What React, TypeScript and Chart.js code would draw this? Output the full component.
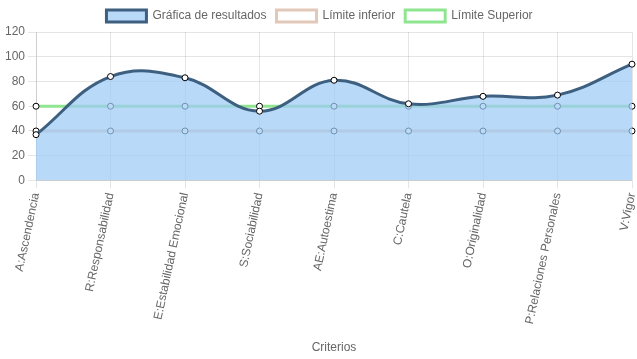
import React, { useEffect, useRef } from "react";
import { Chart, registerables } from "chart.js";
Chart.register(...registerables);

const categories = [
  "A:Ascendencia",
  "R:Responsabilidad",
  "E:Estabilidad Emocional",
  "S:Sociabilidad",
  "AE:Autoestima",
  "C:Cautela",
  "O:Originalidad",
  "P:Relaciones Personales",
  "V:Vigor",
];
const resultados = [37, 84, 83, 56, 81, 62, 68, 69, 94];
const limiteInferior = [40, 40, 40, 40, 40, 40, 40, 40, 40];
const limiteSuperior = [60, 60, 60, 60, 60, 60, 60, 60, 60];

export default function App() {
  const ref = useRef<HTMLCanvasElement | null>(null);
  useEffect(() => {
    if (!ref.current) return;
    Chart.defaults.font.family = "Arial, 'Liberation Sans', sans-serif";
    Chart.defaults.font.size = 12;
    Chart.defaults.color = "#666";
    const chart = new Chart(ref.current, {
      type: "line",
      data: {
        labels: categories,
        datasets: [
          {
            label: "Gráfica de resultados",
            data: resultados,
            borderColor: "rgba(62,96,128,1)",
            backgroundColor: "rgba(158,203,245,0.72)",
            fill: "origin",
            borderWidth: 3,
            tension: 0.4,
            pointRadius: 3,
            pointBackgroundColor: "#fff",
            pointBorderColor: "#000",
            pointBorderWidth: 1,
          },
          {
            label: "Límite inferior",
            data: limiteInferior,
            borderColor: "rgba(225,200,185,1)",
            backgroundColor: "#fff",
            fill: false,
            borderWidth: 3,
            pointRadius: 3,
            pointBackgroundColor: "#fff",
            pointBorderColor: "#000",
            pointBorderWidth: 1,
          },
          {
            label: "Límite Superior",
            data: limiteSuperior,
            borderColor: "rgba(144,230,144,1)",
            backgroundColor: "#fff",
            fill: false,
            borderWidth: 3,
            pointRadius: 3,
            pointBackgroundColor: "#fff",
            pointBorderColor: "#000",
            pointBorderWidth: 1,
          },
        ],
      },
      options: {
        animation: false,
        responsive: true,
        maintainAspectRatio: false,
        layout: { padding: { left: 2, right: 0, top: 0, bottom: 0 } },
        plugins: {
          legend: {
            labels: { boxWidth: 40, boxHeight: 12, color: "#666", font: { size: 12 } },
          },
          tooltip: { enabled: false },
        },
        scales: {
          x: {
            title: {
              display: true,
              text: "Criterios",
              color: "#666",
              font: { size: 12 },
              padding: { top: 12, bottom: 4 },
            },
            ticks: { minRotation: 78, maxRotation: 78, color: "#666" },
            grid: { color: "rgba(0,0,0,0.1)" },
            afterFit: (scale: any) => {
              scale.paddingRight = 4;
            },
          },
          y: {
            min: 0,
            max: 120,
            ticks: { stepSize: 20, color: "#666" },
            grid: { color: "rgba(0,0,0,0.1)" },
          },
        },
      },
    });
    return () => chart.destroy();
  }, []);
  return (
    <div style={{ position: "fixed", left: 0, top: 0, width: 637, height: 359 }}>
      <canvas ref={ref} />
    </div>
  );
}
